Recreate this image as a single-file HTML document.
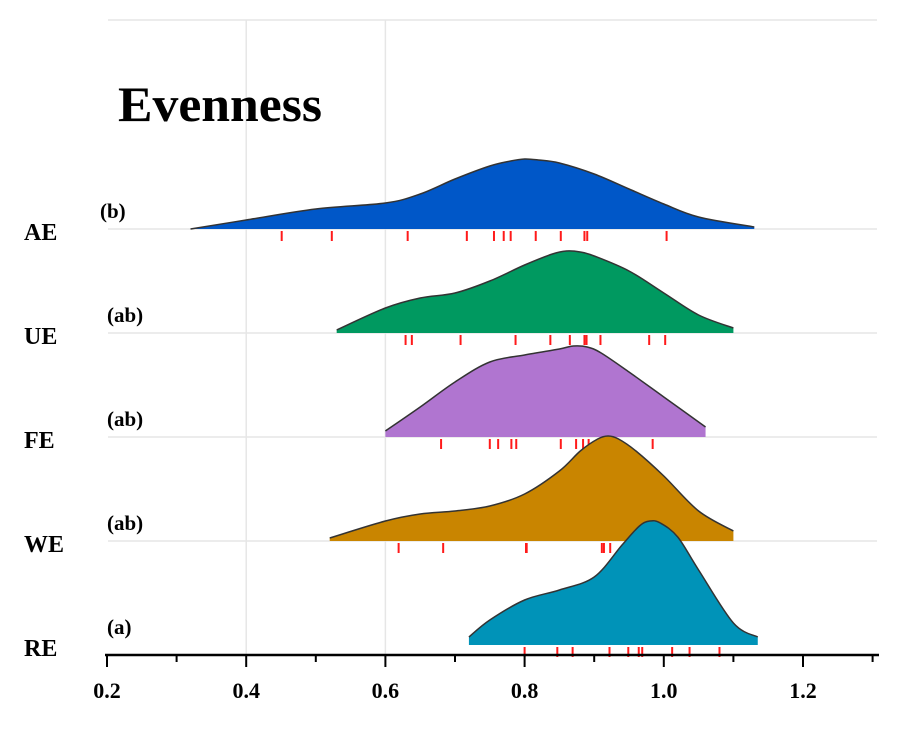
<!DOCTYPE html>
<html><head><meta charset="utf-8"><style>
body{margin:0;background:#fff;width:897px;height:733px;overflow:hidden}
svg{font-family:"Liberation Serif",serif;font-weight:bold}
</style></head><body>
<svg id="c" width="897" height="733"></svg>
<script>
const groups=["AE","UE","FE","WE","RE"];
const letters=["(b)","(ab)","(ab)","(ab)","(a)"];
const colors=["#0057c8","#009960","#b075d0","#c98500","#0093b8"];
const aeX=[0.32,0.4,0.5,0.6,0.65,0.7,0.75,0.78,0.8,0.82,0.85,0.9,0.95,1.0,1.05,1.13];
const aeD=[0,9,20,26,35,50,63,68,70,69,66,55,40,25,12,2];
const ueX=[0.53,0.6,0.65,0.7,0.75,0.8,0.84,0.86,0.88,0.9,0.95,1.0,1.05,1.1];
const ueD=[3,25,35,40,52,68,79,82,81,77,62,40,18,5];
const feX=[0.6,0.65,0.7,0.75,0.8,0.85,0.87,0.89,0.91,0.95,1.0,1.06];
const feD=[6,30,55,75,82,88,91,90,84,65,40,10];
const weX=[0.52,0.6,0.65,0.7,0.75,0.8,0.85,0.88,0.905,0.92,0.935,0.96,1.0,1.05,1.1];
const weD=[3,20,27,30,35,47,70,90,102,105,102,90,65,30,10];
const reX=[0.72,0.75,0.8,0.85,0.9,0.94,0.965,0.98,0.995,1.02,1.05,1.1,1.135];
const reD=[8,25,45,55,68,100,119,124,122,108,75,22,8];
const aeRug=[0.451,0.523,0.632,0.717,0.756,0.77,0.78,0.816,0.852,0.886,0.89,1.004];
const ueRug=[0.629,0.638,0.708,0.787,0.837,0.865,0.886,0.889,0.909,0.979,1.002];
const feRug=[0.680,0.750,0.762,0.781,0.788,0.852,0.874,0.884,0.892,0.912,0.984];
const weRug=[0.619,0.683,0.802,0.803,0.911,0.914,0.923];
const reRug=[0.800,0.847,0.869,0.922,0.949,0.964,0.969,1.012,1.037,1.080];
const ticks=[0.2,0.4,0.6,0.8,1.0,1.2];
const minorTicks=[0.3,0.5,0.7,0.9,1.1,1.3];
const allX=[aeX,ueX,feX,weX,reX],allD=[aeD,ueD,feD,weD,reD],allR=[aeRug,ueRug,feRug,weRug,reRug];
const baselines=[229,333,437,541,645];

const NS="http://www.w3.org/2000/svg",svg=document.getElementById("c");
const sx=v=>107+(v-0.2)*696;
function mk(t,a,p){const e=document.createElementNS(NS,t);for(const k in a)e.setAttribute(k,a[k]);(p||svg).appendChild(e);return e;}
[0.4,0.6].forEach(v=>{const g=mk("line",{x1:sx(v),x2:sx(v),y1:20,y2:655,stroke:"#e6e6e6","stroke-width":1.5});

});
const tl=mk("line",{x1:108,x2:877,y1:20,y2:20,stroke:"#e6e6e6","stroke-width":1.5});


baselines.slice(0,4).forEach(b=>{const g=mk("line",{x1:108,x2:877,y1:b,y2:b,stroke:"#e6e6e6","stroke-width":1.5});

});
const title=mk("text",{x:118,y:121,"font-size":50,textLength:204,lengthAdjust:"spacingAndGlyphs"});title.textContent="Evenness";



function curve(pts){let d=`M${pts[0][0]},${pts[0][1]}`;
for(let i=0;i<pts.length-1;i++){const p0=pts[Math.max(i-1,0)],p1=pts[i],p2=pts[i+1],p3=pts[Math.min(i+2,pts.length-1)];
d+=` C${p1[0]+(p2[0]-p0[0])/6},${p1[1]+(p2[1]-p0[1])/6} ${p2[0]-(p3[0]-p1[0])/6},${p2[1]-(p3[1]-p1[1])/6} ${p2[0]},${p2[1]}`;}return d;}

groups.forEach((g,i)=>{const b=baselines[i];
const pts=allX[i].map((x,j)=>[sx(x),b-allD[i][j]]);
const c=curve(pts);
const f=mk("path",{d:c+` L${pts[pts.length-1][0]},${b} L${pts[0][0]},${b} Z`,fill:colors[i]});


const o=mk("path",{d:c,fill:"none",stroke:"#333","stroke-width":1.5});


allR[i].forEach(r=>{const t=mk("line",{x1:sx(r),x2:sx(r),y1:b+2,y2:b+12,stroke:"#ff1a1a","stroke-width":2});

});
const l=mk("text",{x:24,y:b+11,"font-size":24});l.textContent=g;


const s=mk("text",{x:i==0?100:107,y:b-11,"font-size":21});s.textContent=letters[i];


});
const ax=mk("line",{x1:105,x2:879,y1:655,y2:655,stroke:"#000","stroke-width":2.5});


ticks.forEach(t=>{const k=mk("line",{x1:sx(t),x2:sx(t),y1:655,y2:667,stroke:"#000","stroke-width":2});


const tx=mk("text",{x:sx(t),y:698,"font-size":22,"text-anchor":"middle"});tx.textContent=t.toFixed(1);

});
minorTicks.forEach(t=>{const k=mk("line",{x1:sx(t),x2:sx(t),y1:655,y2:662,stroke:"#000","stroke-width":2});

});
</script>
</body></html>
